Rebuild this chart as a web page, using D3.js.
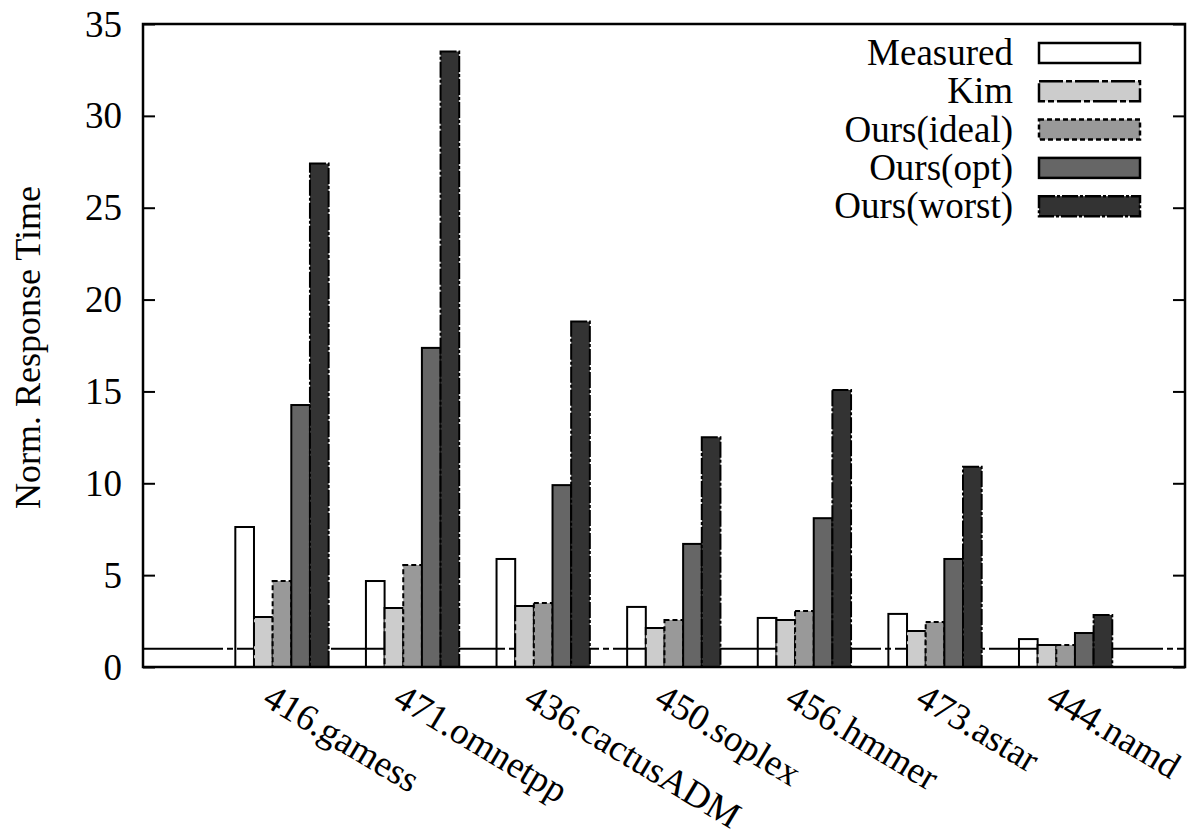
<head>
<meta charset="utf-8">
<script src="https://d3js.org/d3.v7.min.js"></script>
<style>
	body { margin: 0; background: #fff; }
	text { font-family: "Liberation Serif", "DejaVu Serif", serif; fill: #000; }
</style>
</head>
<body>
<svg width="1191" height="829" id="chart"></svg>
<script>

	var benchmarks = ["416.gamess", "471.omnetpp", "436.cactusADM", "450.soplex", "456.hmmer", "473.astar", "444.namd"];
	var seriesNames = ["Measured", "Kim", "Ours(ideal)", "Ours(opt)", "Ours(worst)"];

	var measured  = [7.62, 4.68, 5.88, 3.27, 2.67, 2.89, 1.52];
	var kim       = [2.72, 3.21, 3.32, 2.12, 2.56, 1.96, 1.20];
	var oursIdeal = [4.68, 5.55, 3.48, 2.56, 3.05, 2.45, 1.20];
	var oursOpt   = [14.26, 17.37, 9.90, 6.70, 8.10, 5.88, 1.85];
	var oursWorst = [27.4, 33.5, 18.8, 12.5, 15.08, 10.9, 2.83];

	var yTicks = [0, 5, 10, 15, 20, 25, 30, 35];
	var baseline = 1;

	var values = [measured, kim, oursIdeal, oursOpt, oursWorst];
	var fills = ["none", "#cccccc", "#999999", "#666666", "#333333"];
	var dashes = [null, "24,3,6,3", "5,3", null, "16,2,3,2"];

	var svg = d3.select("#chart"),
		margin = {top: 24, right: 6, bottom: 162, left: 143},
		width = +svg.attr("width"),
		height = +svg.attr("height");

	svg.append("rect").attr("width", width).attr("height", height).attr("fill", "#fff");

	var x = d3.scaleLinear()
		.domain([-1.064, 6.914])
		.range([margin.left, width - margin.right]);

	var y = d3.scaleLinear()
		.domain([0, 35])
		.range([height - margin.bottom, margin.top]);

	var bw = (x(1) - x(0)) / 7;

	var inner = d3.scaleBand()
		.domain(seriesNames)
		.range([-2.5 * bw, 2.5 * bw]);

	// reference line at 1, behind the bars
	svg.append("line")
		.attr("x1", x.range()[0]).attr("x2", x.range()[1])
		.attr("y1", y(baseline)).attr("y2", y(baseline))
		.attr("stroke", "#000")
		.attr("stroke-width", 2)
		.attr("stroke-dasharray", "80,4,6,4");

	var rows = [];
	benchmarks.forEach(function(b, i) {
		seriesNames.forEach(function(s, j) {
			rows.push({bench: b, i: i, series: s, j: j, value: values[j][i]});
		});
	});

	svg.append("g").selectAll("rect")
		.data(rows)
		.enter().append("rect")
		.attr("x", d => x(d.i) + inner(d.series))
		.attr("width", inner.bandwidth())
		.attr("y", d => y(d.value))
		.attr("height", d => y(0) - y(d.value))
		.attr("fill", d => fills[d.j])
		.attr("stroke", "#000")
		.attr("stroke-width", 2)
		.attr("stroke-dasharray", d => dashes[d.j]);

	// frame
	svg.append("rect")
		.attr("x", x.range()[0]).attr("y", y(35))
		.attr("width", x.range()[1] - x.range()[0])
		.attr("height", y(0) - y(35))
		.attr("fill", "none")
		.attr("stroke", "#000")
		.attr("stroke-width", 2.5);

	// y axis, ticks inside, mirrored on right
	var yAxis = svg.append("g")
		.attr("transform", "translate(" + x.range()[0] + ",0)")
		.call(d3.axisRight(y).tickValues(yTicks).tickSize(12).tickFormat(""));
	yAxis.select(".domain").remove();
	yAxis.selectAll("line").attr("stroke-width", 2);

	var yAxisR = svg.append("g")
		.attr("transform", "translate(" + x.range()[1] + ",0)")
		.call(d3.axisLeft(y).tickValues(yTicks).tickSize(12).tickFormat(""));
	yAxisR.select(".domain").remove();
	yAxisR.selectAll("line").attr("stroke-width", 2);

	svg.append("g").selectAll("text")
		.data(yTicks)
		.enter().append("text")
		.attr("x", 122)
		.attr("y", d => y(d))
		.attr("dy", "0.34em")
		.attr("text-anchor", "end")
		.style("font-size", "37px")
		.text(d => d);

	svg.append("text")
		.attr("transform", "translate(40," + (y(17.5) + 2) + ") rotate(-90)")
		.attr("text-anchor", "middle")
		.style("font-size", "36px")
		.text("Norm. Response Time");

	// rotated category labels
	svg.append("g").selectAll("text")
		.data(benchmarks)
		.enter().append("text")
		.attr("transform", (d, i) => "translate(" + (x(i) - 21) + ",704) rotate(31)")
		.attr("text-anchor", "start")
		.style("font-size", "37px")
		.text(d => d);

	// legend
	var legend = svg.append("g").selectAll("g")
		.data(seriesNames)
		.enter().append("g")
		.attr("transform", (d, i) => "translate(0," + (53 + i * 38.3) + ")");

	legend.append("text")
		.attr("x", 1013)
		.attr("y", 12)
		.attr("text-anchor", "end")
		.style("font-size", "37px")
		.text(d => d);

	legend.append("rect")
		.attr("x", 1039)
		.attr("y", -10)
		.attr("width", 101)
		.attr("height", 20)
		.attr("fill", (d, i) => fills[i] === "none" ? "#fff" : fills[i])
		.attr("stroke", "#000")
		.attr("stroke-width", 2.5)
		.attr("stroke-dasharray", (d, i) => dashes[i]);

</script>
</body>
